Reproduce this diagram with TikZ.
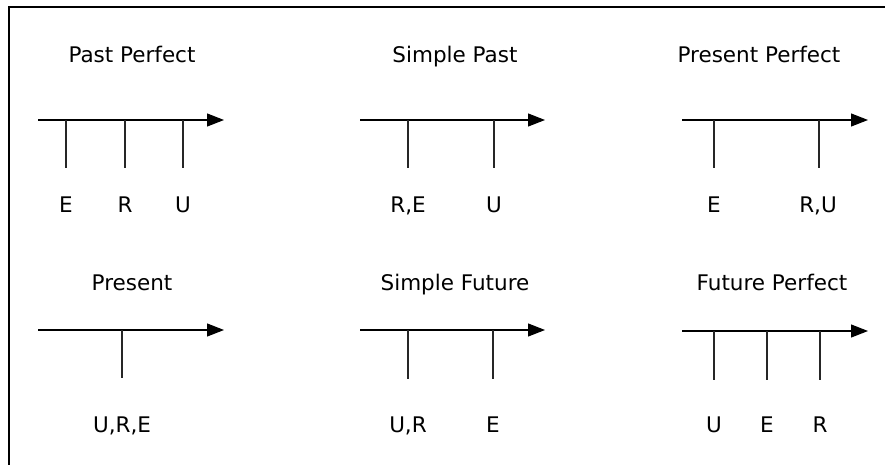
\documentclass[tikz,border=0pt]{standalone}
\usepackage{fontspec}
\setmainfont{DejaVu Sans}
\usetikzlibrary{arrows.meta,calc}

\begin{document}
\begin{tikzpicture}[x=1pt,y=-1pt,
    title/.style={anchor=base, font=\fontsize{21.5}{25}\selectfont},
    lbl/.style={anchor=base, font=\fontsize{21.5}{25}\selectfont},
    axis/.style={line width=1.2pt, -{Triangle[length=17pt,width=13pt]}},
    tick/.style={line width=1.1pt, black!85}]

    \useasboundingbox (0,0) rectangle (885,465);
    \draw[line width=1.3pt] (9,465) -- (9,7) -- (885,7);

    % Past Perfect
    \node[title] (pptitle) at (132,63) {Past Perfect};
    \coordinate (ppa) at (38,120);
    \coordinate (ppb) at (224,120);
    \node[lbl] (ppE) at (66,212) {E};
    \node[lbl] (ppR) at (125,212) {R};
    \node[lbl] (ppU) at (183,212) {U};
    \draw[axis] (ppa) -- (ppb);
    \draw[tick] (ppE |- ppa) -- ++(0,48);
    \draw[tick] (ppR |- ppa) -- ++(0,48);
    \draw[tick] (ppU |- ppa) -- ++(0,48);

    % Simple Past
    \node[title] (sptitle) at (455,63) {Simple Past};
    \coordinate (spa) at (360,120);
    \coordinate (spb) at (545,120);
    \node[lbl] (spRE) at (408,212) {R,E};
    \node[lbl] (spU) at (494,212) {U};
    \draw[axis] (spa) -- (spb);
    \draw[tick] (spRE |- spa) -- ++(0,48);
    \draw[tick] (spU |- spa) -- ++(0,48);

    % Present Perfect
    \node[title] (prptitle) at (759,63) {Present Perfect};
    \coordinate (prpa) at (682,120);
    \coordinate (prpb) at (868,120);
    \node[lbl] (prpE) at (714,212) {E};
    \node[lbl] (prpRU) at (818,212) {R,U};
    \draw[axis] (prpa) -- (prpb);
    \draw[tick] (prpE |- prpa) -- ++(0,48);
    \draw[tick] ($(prpRU |- prpa)+(1,0)$) -- ++(0,48);

    % Present
    \node[title] (prtitle) at (132,290) {Present};
    \coordinate (pra) at (38,330);
    \coordinate (prb) at (224,330);
    \node[lbl] (prURE) at (122,432) {U,R,E};
    \draw[axis] (pra) -- (prb);
    \draw[tick] (prURE |- pra) -- ++(0,48);

    % Simple Future
    \node[title] (sftitle) at (455,290) {Simple Future};
    \coordinate (sfa) at (360,330);
    \coordinate (sfb) at (545,330);
    \node[lbl] (sfUR) at (408,432) {U,R};
    \node[lbl] (sfE) at (493,432) {E};
    \draw[axis] (sfa) -- (sfb);
    \draw[tick] (sfUR |- sfa) -- ++(0,49);
    \draw[tick] (sfE |- sfa) -- ++(0,49);

    % Future Perfect
    \node[title] (fptitle) at (772,290) {Future Perfect};
    \coordinate (fpa) at (682,331);
    \coordinate (fpb) at (868,331);
    \node[lbl] (fpU) at (714,432) {U};
    \node[lbl] (fpE) at (767,432) {E};
    \node[lbl] (fpR) at (820,432) {R};
    \draw[axis] (fpa) -- (fpb);
    \draw[tick] (fpU |- fpa) -- ++(0,49);
    \draw[tick] (fpE |- fpa) -- ++(0,49);
    \draw[tick] (fpR |- fpa) -- ++(0,49);

\end{tikzpicture}
\end{document}
